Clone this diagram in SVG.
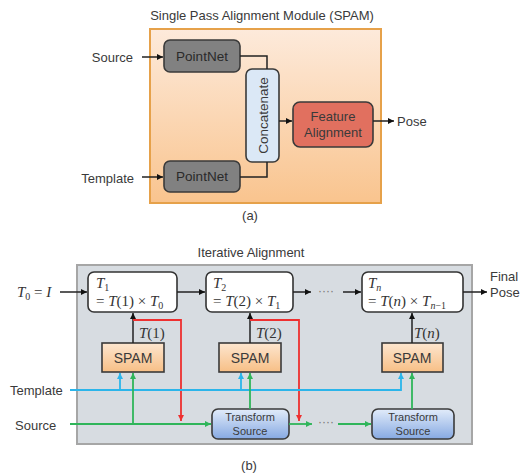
<svg xmlns="http://www.w3.org/2000/svg" width="527" height="474" viewBox="0 0 527 474">
<defs>
<linearGradient id="gOrange" x1="0" y1="0" x2="0" y2="1"><stop offset="0" stop-color="#fdeadb"/><stop offset="1" stop-color="#f9c48e"/></linearGradient>
<linearGradient id="gSpam" x1="0" y1="0" x2="0" y2="1"><stop offset="0" stop-color="#fde6cf"/><stop offset="1" stop-color="#f7bf86"/></linearGradient>
<linearGradient id="gTS" x1="0" y1="0" x2="0" y2="1"><stop offset="0" stop-color="#e2ecfa"/><stop offset="1" stop-color="#86a9e2"/></linearGradient>
<marker id="aK" viewBox="0 0 6 6" refX="6" refY="3" markerWidth="6" markerHeight="6" markerUnits="userSpaceOnUse" orient="auto"><path d="M0,0 L6,3 L0,6 z" fill="#111"/></marker>
<marker id="aB" viewBox="0 0 6 6" refX="6" refY="3" markerWidth="6" markerHeight="6" markerUnits="userSpaceOnUse" orient="auto"><path d="M0,0 L6,3 L0,6 z" fill="#2bb5ea"/></marker>
<marker id="aG" viewBox="0 0 6 6" refX="6" refY="3" markerWidth="6" markerHeight="6" markerUnits="userSpaceOnUse" orient="auto"><path d="M0,0 L6,3 L0,6 z" fill="#2fb55a"/></marker>
<marker id="aR" viewBox="0 0 6 6" refX="6" refY="3" markerWidth="6" markerHeight="6" markerUnits="userSpaceOnUse" orient="auto"><path d="M0,0 L6,3 L0,6 z" fill="#ee3030"/></marker>
</defs>
<style>
text{font-family:"Liberation Sans",Arial,sans-serif;font-size:13px;fill:#3a3a3a}
.m{font-family:"Liberation Serif","Times New Roman",serif;font-style:italic;font-size:15px;fill:#333}
.mu{font-style:normal}
.sub{font-size:10px;font-style:normal}
.subi{font-size:10px}
.c{text-anchor:middle}
.node{stroke:#3a3a3a;stroke-width:1.6}
.k{fill:none;stroke:#222;stroke-width:1.5}
.b{fill:none;stroke:#2bb5ea;stroke-width:1.8}
.g{fill:none;stroke:#2fb55a;stroke-width:1.8}
.r{fill:none;stroke:#ee3030;stroke-width:1.8}
.dots{fill:#777;font-size:12px}
.ts{font-size:11px}
</style>

<!-- (a) -->
<text class="c" x="262" y="20">Single Pass Alignment Module (SPAM)</text>
<rect x="150" y="29" width="231" height="174" fill="url(#gOrange)" stroke="#e6a14a" stroke-width="2"/>
<text x="133" y="62" text-anchor="end">Source</text>
<text x="134" y="183" text-anchor="end">Template</text>
<text class="c" x="250" y="220">(a)</text>

<g id="pointnet1"><rect class="node" x="164" y="40" width="76" height="32" rx="6" fill="#818181"/><text class="c" x="202" y="61" style="font-size:13.5px;fill:#2a2a2a">PointNet</text></g>
<g id="pointnet2"><rect class="node" x="164" y="161" width="76" height="31" rx="6" fill="#818181"/><text class="c" x="202" y="181" style="font-size:13.5px;fill:#2a2a2a">PointNet</text></g>
<g id="concat"><rect class="node" x="246" y="69" width="33" height="93" rx="6" fill="#dbe8f6"/><text class="c" transform="translate(267.5,115.5) rotate(-90)" x="0" y="0" style="font-size:13.5px">Concatenate</text></g>
<g id="featalign"><rect class="node" x="293" y="102" width="80" height="45" rx="7" fill="#e1705f"/><text class="c" x="333" y="121">Feature</text><text class="c" x="333" y="137">Alignment</text></g>
<text x="397" y="126">Pose</text>

<g id="connectors-a">
<path class="k" d="M142,57 H163" marker-end="url(#aK)"/>
<path class="k" d="M142,177 H163" marker-end="url(#aK)"/>
<path class="k" d="M240,56 H267 V69"/>
<path class="k" d="M240,177 H267 V162"/>
<path class="k" d="M279,121 H292" marker-end="url(#aK)"/>
<path class="k" d="M373,121 H394" marker-end="url(#aK)"/>
</g>

<!-- (b) -->
<text class="c" x="251" y="257">Iterative Alignment</text>
<rect x="77" y="265" width="395" height="179" fill="#d7dce1" stroke="#a6a6a6" stroke-width="2"/>
<text class="m" x="17" y="297">T<tspan class="sub" dy="3">0</tspan><tspan class="mu" dy="-3"> = </tspan>I</text>
<text x="490" y="281">Final</text>
<text x="490" y="297">Pose</text>
<text x="10" y="395">Template</text>
<text x="15" y="430">Source</text>
<text class="c" x="249" y="470">(b)</text>

<g id="t1"><rect x="88" y="272" width="89" height="40" rx="6" fill="#fff" stroke="#333" stroke-width="1.6"/><text class="m" x="96" y="288">T<tspan class="sub" dy="3">1</tspan></text><text class="m" x="96" y="306"><tspan class="mu">= </tspan>T<tspan class="mu">(1) × </tspan>T<tspan class="sub" dy="3">0</tspan></text></g>
<g id="t2"><rect x="206" y="272" width="87" height="40" rx="6" fill="#fff" stroke="#333" stroke-width="1.6"/><text class="m" x="213" y="288">T<tspan class="sub" dy="3">2</tspan></text><text class="m" x="213" y="306"><tspan class="mu">= </tspan>T<tspan class="mu">(2) × </tspan>T<tspan class="sub" dy="3">1</tspan></text></g>
<g id="tn"><rect x="362" y="272" width="101" height="40" rx="6" fill="#fff" stroke="#333" stroke-width="1.6"/><text class="m" x="368" y="288">T<tspan class="subi" dy="3">n</tspan></text><text class="m" x="368" y="306"><tspan class="mu">= </tspan>T<tspan class="mu">(</tspan>n<tspan class="mu">) × </tspan>T<tspan class="subi" dy="3">n<tspan class="mu">−1</tspan></tspan></text></g>

<g id="spam1"><rect class="node" x="102" y="343" width="62" height="29" fill="url(#gSpam)"/><text class="c" x="133" y="363" style="font-size:14px">SPAM</text></g>
<g id="spam2"><rect class="node" x="219" y="343" width="62" height="29" fill="url(#gSpam)"/><text class="c" x="250" y="363" style="font-size:14px">SPAM</text></g>
<g id="spamn"><rect class="node" x="382" y="343" width="61" height="29" fill="url(#gSpam)"/><text class="c" x="412" y="363" style="font-size:14px">SPAM</text></g>

<g id="ts1"><rect class="node" x="212" y="409" width="77" height="30" rx="6" fill="url(#gTS)"/><text class="c ts" x="250" y="421">Transform</text><text class="c ts" x="250" y="435">Source</text></g>
<g id="tsn"><rect class="node" x="372" y="409" width="82" height="30" rx="6" fill="url(#gTS)"/><text class="c ts" x="413" y="421">Transform</text><text class="c ts" x="413" y="435">Source</text></g>

<g id="connectors-b">
<path class="k" d="M60,292 H87" marker-end="url(#aK)"/>
<path class="k" d="M177,292 H205" marker-end="url(#aK)"/>
<path class="k" d="M293,292 H311" marker-end="url(#aK)"/>
<text class="dots" x="318" y="295">····</text>
<path class="k" d="M343,292 H361" marker-end="url(#aK)"/>
<path class="k" d="M463,292 H487" marker-end="url(#aK)"/>
<path class="k" d="M133,343 V313" marker-end="url(#aK)"/>
<path class="k" d="M250,343 V313" marker-end="url(#aK)"/>
<path class="k" d="M412,343 V313" marker-end="url(#aK)"/>
<text class="m" x="139" y="338">T<tspan class="mu">(1)</tspan></text>
<text class="m" x="256" y="338">T<tspan class="mu">(2)</tspan></text>
<text class="m" x="414" y="338">T<tspan class="mu">(</tspan>n<tspan class="mu">)</tspan></text>
<path class="r" d="M133,320 H181 V421" marker-end="url(#aR)"/>
<path class="r" d="M250,320 H299 V421" marker-end="url(#aR)"/>
<path class="b" d="M70,390 H401 V373" marker-end="url(#aB)"/>
<path class="b" d="M120,390 V373" marker-end="url(#aB)"/>
<path class="b" d="M241,390 V373" marker-end="url(#aB)"/>
<path class="g" d="M70,424 H211" marker-end="url(#aG)"/>
<path class="g" d="M133,424 V373" marker-end="url(#aG)"/>
<path class="g" d="M250,409 V373" marker-end="url(#aG)"/>
<path class="g" d="M289,424 H312" marker-end="url(#aG)"/>
<text class="dots" x="318" y="426">····</text>
<path class="g" d="M338,424 H371" marker-end="url(#aG)"/>
<path class="g" d="M412,409 V373" marker-end="url(#aG)"/>
</g>
</svg>
